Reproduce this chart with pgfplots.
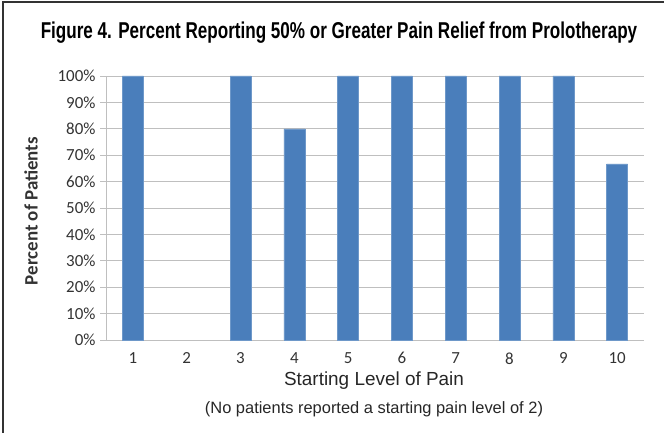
\documentclass[border=0pt]{standalone}
\usepackage{pgfplots}
\pgfplotsset{compat=1.18}
\usepackage{fontspec}
\setmainfont{Liberation Sans}
\newfontfamily\carlito{Carlito}
\newfontfamily\titlefont[FakeStretch=0.745]{Liberation Sans Bold}
\definecolor{barblue}{HTML}{4A7EBB}
\definecolor{gridgray}{HTML}{BFBFBF}
\begin{document}
\begin{tikzpicture}[x=1bp,y=1bp]
\path[use as bounding box] (-106,-93) rectangle (558,340);
\draw[line width=1.5bp, black!80] (-103,-93) -- (-103,338) -- (558,338);
\begin{axis}[
  at={(0,0)}, anchor=origin,
  scale only axis, width=538bp, height=264bp,
  xmin=0.5, xmax=10.5, ymin=0, ymax=100,
  ybar, bar width=21bp,
  axis line style={gridgray, line width=0.8bp},
  axis x line*=bottom, axis y line*=left,
  xtick={1,...,10}, xtick style={draw=none},
  ytick={0,10,...,100},
  yticklabel={\pgfmathprintnumber{\tick}\%},
  ytick style={gridgray, line width=0.8bp},
  tick align=outside, major tick length=6bp,
  ymajorgrids, grid style={gridgray, line width=0.8bp},
  tick label style={font=\carlito\fontsize{17}{19}\selectfont, text=black!80},
  /pgf/number format/assume math mode=true,
  yticklabel style={xshift=-1bp},
  xticklabel style={yshift=-3bp},
  clip=false,
]
\addplot[fill=barblue, draw=barblue!80!white, line width=0.4bp] coordinates {
(1,100) (3,100) (4,80) (5,100) (6,100) (7,100) (8,100) (9,100) (10,66.67)};
\end{axis}
\node[font=\titlefont\fontsize{23}{25}\selectfont] at (233,307) {Figure 4. Percent Reporting 50\% or Greater Pain Relief from Prolotherapy};
\node[font=\carlito\bfseries\fontsize{19}{21}\selectfont, rotate=90, text=black!80] at (-75,129) {Percent of Patients};
\node[font=\fontsize{19}{21}\selectfont, text=black!85] at (268,-41) {Starting Level of Pain};
\node[font=\fontsize{16.5}{18}\selectfont, text=black!85] at (268,-69) {(No patients reported a starting pain level of 2)};
\end{tikzpicture}
\end{document}
